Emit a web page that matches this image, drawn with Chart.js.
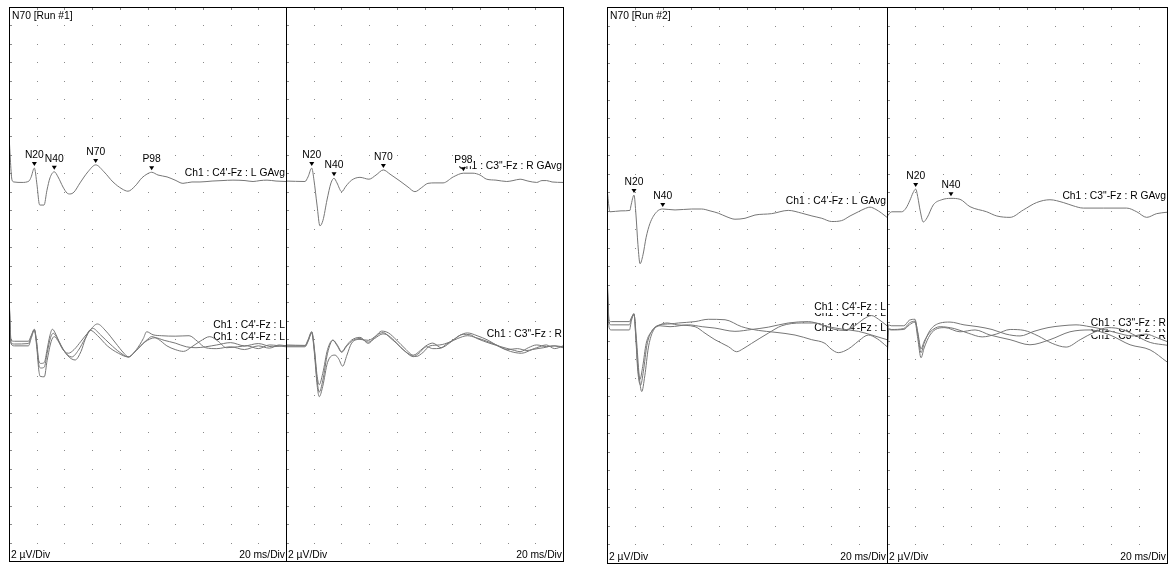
<!DOCTYPE html>
<html>
<head>
<meta charset="utf-8">
<script src="https://cdn.jsdelivr.net/npm/chart.js@4.4.1/dist/chart.umd.min.js"></script>
<style>
  body { margin: 0; background: #fff; width: 1169px; height: 569px; overflow: hidden; }
  canvas { position: absolute; }
</style>
</head>
<body>
<canvas id="run1L"></canvas>
<canvas id="run1R"></canvas>
<canvas id="run2L"></canvas>
<canvas id="run2R"></canvas>
<script>
// ---- scale: 20 ms/Div (10 div), 2 uV/Div (30 div) ----
const X_MAX = 200, X_DIV = 20;
const Y_MAX = 60, Y_DIV = 2;

// ---- traces: [ms, uV] relative to each trace's baseline ----
// Run #1, left (C4'-Fz : L)
const run1AvgL = [[0,5.0],[2.2,0.2],[3.6,0],[9.4,-0.05],[14.4,0.1],[15.9,0.5],[18.3,1.5],[20.2,-0.3],[21.7,-2.3],[22.4,-2.5],[25.3,-2.5],[27.4,-0.9],[29.6,0.45],[32.7,1.1],[35.4,0.55],[39,-0.55],[41.9,-1.2],[44,-1.3],[46.9,-1.1],[51.3,-0.1],[57,1.1],[62.6,1.85],[68.6,1.1],[75.1,0],[81.6,-0.75],[85.9,-1.0],[91,-0.45],[96,0.45],[99.6,0.85],[103,1.05],[107.6,0.75],[114.1,0.55],[119.9,0.2],[125.6,-0.15],[132.1,0],[137.9,0],[146.6,0.1],[153.8,0.15],[161.7,0.2],[170.4,0.15],[176.2,0.05],[181.2,0.15],[186.3,0.2],[192.8,0.1],[200,0.05]];
const run1SingleL1 = [[0,5.5],[1.5,0.4],[4,0.3],[14,0.3],[16,0.9],[18.3,1.6],[20,0.2],[21.5,-1.8],[23,-2.1],[25.5,-2.0],[27.5,-0.6],[29.5,0.9],[31.3,1.6],[34,1.0],[38,-0.4],[42.8,-1.0],[47,-0.6],[52,0.3],[58,1.4],[63.8,2.17],[70,1.4],[77,0.1],[83,-1.0],[86.2,-1.4],[92,-0.6],[97,0.6],[99.4,1.33],[104,1.0],[110,0.9],[120,0.85],[130,0.9],[136,0.3],[142,-0.4],[150,-0.5],[160,-0.3],[170,-0.6],[180,-0.2],[188,-0.45],[195,-0.1],[200,-0.2]];
const run1SingleL2 = [[0,5.0],[1.5,0.1],[4,0.0],[14,0.05],[16,0.8],[18.3,1.55],[20,0.0],[21.5,-2.2],[23,-2.6],[25.5,-2.5],[27.5,-1.0],[30,0.7],[32,1.16],[35,0.6],[40,-0.8],[45.3,-1.4],[50,-0.7],[55,0.6],[60.4,1.7],[66,1.0],[73,0.0],[80,-0.9],[86.2,-1.4],[89.8,-1.0],[95,-0.2],[100,0.5],[103,0.8],[108,0.5],[114,-0.2],[120,-0.6],[126,-0.8],[132,-0.3],[138,0.3],[145,0.8],[151,0.3],[157,-0.4],[165,-0.3],[172,-0.2],[180,-0.5],[188,-0.1],[200,-0.3]];
const run1SingleL3 = [[0,5.2],[1.5,0.0],[4,-0.2],[14,-0.2],[16,0.6],[18.3,1.5],[20,-0.3],[21.5,-2.8],[22.5,-3.5],[25.5,-3.55],[27.5,-1.8],[30.5,0.3],[32.7,0.8],[36,0.2],[42,-1.2],[47.7,-1.73],[52,-0.8],[55,0.5],[58.5,1.5],[64,0.9],[71,-0.2],[79,-1.0],[86.2,-1.4],[92,-0.7],[98,0.2],[105.4,0.68],[112,0.4],[120,0.1],[128,-0.3],[135,-0.4],[142,-0.3],[150,-0.1],[160,0.15],[170,-0.2],[180,0.05],[190,-0.3],[200,-0.15]];
// Run #1, right (C3"-Fz : R)
const run1AvgR = [[0,0.05],[13.7,0],[15.9,0.5],[18.6,1.45],[20.2,0.15],[22.4,-2.55],[24.5,-4.8],[26.7,-4.2],[29.6,-2.0],[32.5,-0.15],[34.7,0.35],[36.8,-0.15],[40.2,-1.1],[43.3,-0.5],[47.4,0.15],[53.4,0.45],[59.9,0.25],[65,0.7],[70.3,1.25],[75.1,0.8],[82.3,0.05],[88.1,-0.6],[93.1,-1.1],[98,-0.65],[102.5,-0.2],[107.6,-0.15],[113.4,-0.15],[120.8,0.5],[128.1,0.9],[135,0.9],[140.1,0.7],[144.9,0.25],[151.6,0.15],[159.4,0],[163.9,0.1],[169,0.25],[174.7,0.05],[181,-0.1],[184.8,0.1],[188.2,0.1],[192.1,-0.05],[200,-0.1]];
const run1SingleR1 = [[0,-0.1],[13.7,-0.15],[16,0.5],[18.6,1.34],[20.5,-0.5],[22.5,-3.5],[24,-4.4],[26.5,-3.2],[30,-0.6],[33.9,0.43],[37,-0.1],[40.2,-0.83],[43.5,-0.2],[47.4,0.43],[53.4,0.72],[59.4,0.07],[64,0.7],[67.8,1.16],[70.3,1.23],[75,0.7],[79.9,0.07],[86,-0.8],[91.9,-1.37],[96,-1.0],[101.6,-0.29],[106,-0.5],[111.2,-0.47],[116,0.0],[120.6,0.43],[128,1.05],[133,1.0],[137.7,0.61],[147.3,0.07],[153,-0.2],[159.4,-0.47],[165,-0.7],[169,-0.83],[175,-0.4],[181,-0.1],[188.2,-0.29],[194,-0.2],[200,-0.3]];
const run1SingleR2 = [[0,-0.2],[13.7,-0.2],[16,0.4],[18.6,1.3],[20.5,-0.7],[22.5,-4.0],[24,-5.2],[26.5,-4.0],[30,-1.0],[33.9,0.4],[37,-0.2],[40.2,-0.9],[43.5,-0.3],[47.4,0.3],[53.4,0.6],[59.4,0.2],[64,0.6],[70,1.1],[73,1.0],[78,0.4],[83,-0.4],[89,-1.1],[94,-1.35],[99,-0.9],[104,-0.2],[111,-0.1],[118,0.2],[124,0.6],[131,0.9],[137,0.7],[145,0.3],[152,-0.1],[160,-0.6],[167,-0.5],[174,-0.7],[181,-0.4],[188,-0.1],[194,-0.5],[200,-0.2]];
const run1SingleR3 = [[0,-0.3],[13.7,-0.3],[16,0.3],[18.6,1.2],[20.5,-1.0],[22.5,-4.5],[24,-5.7],[26.5,-4.6],[30,-2.0],[35.4,-1.2],[38,-1.6],[40.9,-2.4],[44,-1.2],[47.4,0.1],[53.4,0.5],[59.4,0.4],[65,0.9],[69,1.4],[74,1.2],[80,0.4],[86,-0.5],[92,-1.2],[97,-0.7],[101,-0.2],[106,0.1],[112,-0.4],[118,0.1],[125,0.9],[131,1.2],[138,0.9],[146,0.4],[154,-0.3],[162,-0.8],[170,-1.0],[178,-0.6],[186,-0.4],[193,-0.2],[200,-0.4]];
// Run #2, left (C4'-Fz : L)
const run2AvgL = [[0,2.5],[1.5,0.3],[2.1,-0.1],[10,0.0],[16.4,0.05],[17.1,0.55],[19.3,1.7],[20.7,-0.45],[22.1,-3.65],[23.6,-5.7],[25.7,-4.75],[27.9,-2.9],[30.7,-1.35],[35.5,-0.1],[39.8,0.2],[48.6,0.1],[60.5,0.2],[67.6,0.2],[73.6,0],[79.5,-0.25],[85.7,-0.65],[91.4,-0.9],[98.6,-0.8],[105.7,-0.45],[117.6,-0.3],[129.5,0.05],[139.1,-0.25],[146.4,-0.55],[153.4,-0.8],[160.5,-1.15],[167.6,-1.05],[173.6,-0.55],[179.5,-0.1],[183.6,0.2],[187.9,0.4],[192.1,0.15],[196.2,-0.25],[200,-0.7]];
const run2SingleL1 = [[0,5.9],[1.5,0.5],[3,0.35],[16,0.35],[17.5,0.8],[19.3,1.2],[20.5,-1.0],[22,-4.5],[23.5,-5.9],[25.5,-4.5],[28,-2.0],[31.9,-0.7],[37.9,0.0],[42.9,0.2],[50,0.0],[62.9,-0.2],[70,-0.9],[77.1,-1.6],[86.7,-2.35],[92.6,-2.9],[97,-2.6],[103.3,-2.0],[115.2,-0.9],[124.8,-0.1],[139.1,0.2],[148.6,0.2],[158.1,-0.2],[167.6,-0.45],[179.5,-0.7],[189.1,-1.1],[200,-1.6]];
const run2SingleL2 = [[0,5.4],[1.5,0.2],[3,0.0],[16,0.0],[17.5,0.7],[19.3,1.2],[20.5,-1.2],[22,-5.0],[24,-6.5],[26,-5.0],[28.5,-2.2],[31.9,-0.7],[37.9,0.0],[45,0.1],[51,0.2],[62.9,0.35],[72.4,0.6],[84.3,0.55],[96.2,-0.2],[108.1,-0.6],[120,-0.8],[134.3,-1.1],[146.2,-1.6],[155.7,-2.0],[160,-2.6],[165.2,-3.0],[170,-2.8],[174.8,-2.35],[180,-1.7],[186.7,-1.1],[193,-1.5],[200,-2.35]];
const run2SingleL3 = [[0,5.0],[1.5,-0.3],[3,-0.55],[16,-0.55],[17.5,0.5],[19.3,1.1],[21,-1.5],[23,-5.5],[24.8,-7.2],[27,-5.5],[29.5,-2.5],[32.5,-0.8],[37.9,-0.1],[45,-0.2],[58.1,0.0],[68,-0.2],[77.1,-0.35],[91.4,-0.7],[103.3,-0.5],[115.2,-0.25],[129.5,0.2],[143.8,0.35],[153.3,0.0],[162.9,-0.5],[170,-0.6],[177,-0.1],[183,0.6],[189,1.0],[194,0.6],[200,-0.1]];
// Run #2, right (C3"-Fz : R)
const run2AvgR = [[0,-0.6],[3.4,-0.1],[10.5,-0.1],[13.6,0.3],[16.4,1.15],[18.6,1.95],[20.5,2.35],[22.1,1.4],[23.6,0.1],[25.9,-1.2],[28.6,-0.75],[33.1,0.65],[39.1,1.2],[45.7,1.35],[52.1,1.25],[59.3,0.45],[71.2,-0.1],[78.4,-0.55],[87.9,-0.7],[97.4,0.1],[106.9,0.9],[116.4,1.2],[125.9,0.9],[132.9,0.55],[140.2,0.3],[154.5,0.3],[171.2,0.3],[178.4,-0.1],[185.5,-0.7],[192.6,-0.3],[200,-0.15]];
const run2SingleR1 = [[0,-5.0],[1,-0.5],[3,-0.55],[12,-0.5],[16,0.0],[20,0.3],[22,-1.5],[24.3,-3.55],[26.5,-2.5],[30.7,-1.1],[36,-0.4],[41.4,-0.3],[52.1,-0.75],[62.9,-0.55],[73.6,-1.1],[87.9,-1.6],[102.1,-2.15],[116.4,-1.6],[130.7,-0.75],[145,-0.55],[159.3,-1.1],[173.6,-2.15],[187.9,-2.7],[200,-4.0]];
const run2SingleR2 = [[0,-4.0],[1,0.0],[3,-0.1],[12,-0.1],[16,0.5],[20,0.6],[22,-1.0],[24.3,-3.0],[26.5,-2.0],[30.7,-0.6],[38,0.2],[45,0.3],[55,0.0],[65,-0.2],[75,-0.5],[85,-1.0],[95,-1.2],[105,-0.7],[115,-0.3],[125,-0.1],[135,0.0],[145,-0.2],[155,-0.5],[165,-0.9],[175,-1.2],[185,-1.0],[193,-1.4],[200,-1.8]];
const run2SingleR3 = [[0,-4.5],[1,-0.4],[3,-0.5],[12,-0.4],[16,0.2],[20,0.4],[22,-0.8],[24.3,-2.6],[26.5,-1.8],[30.7,-0.8],[38,-0.2],[48,-0.4],[58,-0.9],[68,-1.3],[78,-1.0],[88,-0.5],[98,-0.6],[108,-1.2],[118,-2.0],[128,-2.4],[138,-1.6],[148,-0.8],[158,-0.3],[168,-0.5],[178,-1.2],[188,-1.9],[200,-2.2]];

// ---- peak markers (name + latency in ms) ----
const run1MarkNames = ["N20", "N40", "N70", "P98"];
const run1MarkTimesL = [18.3, 32.7, 62.6, 103.0];
const run1MarkTimesR = [18.6, 34.7, 70.3, 128.1];
const run2MarkNames = ["N20", "N40"];
const run2MarkTimesL = [19.3, 39.8];
const run2MarkTimesR = [20.5, 45.7];

const FONT = '10.3px "Liberation Sans", Arial, sans-serif';
const TRACE_COLOR = "#767676";

function toPoints(trace, base) {
  return trace.map(([t, v]) => ({ x: t, y: v + base }));
}

function valueAt(trace, t) {
  for (let i = 1; i < trace.length; i++) {
    if (trace[i][0] >= t) {
      const [t0, v0] = trace[i - 1], [t1, v1] = trace[i];
      return v0 + (v1 - v0) * (t - t0) / (t1 - t0);
    }
  }
  return trace[trace.length - 1][1];
}

function boxedText(ctx, text, x, y, align) {
  ctx.font = FONT;
  const w = ctx.measureText(text).width;
  const left = align === "right" ? x - w : align === "center" ? x - w / 2 : x;
  ctx.fillStyle = "#fff";
  ctx.fillRect(left - 1, y - 6, w + 2, 12);
  ctx.fillStyle = "#000";
  ctx.textAlign = "left";
  ctx.textBaseline = "middle";
  ctx.fillText(text, left, y);
}

// grid dots, labels, frame, markers
const panelDecor = {
  id: "panelDecor",
  beforeDatasetsDraw(chart, args, o) {
    const { ctx, chartArea: a, scales: { x, y } } = chart;
    ctx.save();
    ctx.fillStyle = "#8a8a8a";
    for (let t = X_DIV; t < X_MAX; t += X_DIV) {
      const px = Math.round(x.getPixelForValue(t));
      ctx.fillRect(px, a.top + 1, 1, 2);
      for (let v = Y_DIV; v < Y_MAX; v += Y_DIV) {
        ctx.fillRect(px, Math.round(y.getPixelForValue(v)), 1, 1);
      }
    }
    for (let v = Y_DIV; v < Y_MAX; v += Y_DIV) {
      ctx.fillRect(a.left + 1, Math.round(y.getPixelForValue(v)), 2, 1);
    }
    // channel labels, lowest first so upper boxes overlap the lower ones
    o.labels.forEach(l => boxedText(ctx, l.text, a.right - 1, l.y, "right"));
    ctx.restore();
  },
  afterDatasetsDraw(chart, args, o) {
    const { ctx, chartArea: a, scales: { x, y } } = chart;
    ctx.save();
    // peak markers on the grand average
    o.markNames.forEach((name, i) => {
      const t = o.markTimes[i];
      const px = x.getPixelForValue(t);
      const py = y.getPixelForValue(valueAt(o.avg, t) + o.avgBase) - 2;
      ctx.fillStyle = "#000";
      ctx.beginPath();
      ctx.moveTo(px - 2.5, py - 4);
      ctx.lineTo(px + 2.5, py - 4);
      ctx.lineTo(px, py);
      ctx.closePath();
      ctx.fill();
      boxedText(ctx, name, px, py - 11, "center");
    });
    if (o.title) boxedText(ctx, o.title, a.left + 3, a.top + 9, "left");
    boxedText(ctx, "2 µV/Div", a.left + 2, a.bottom - 6, "left");
    boxedText(ctx, "20 ms/Div", a.right - 1, a.bottom - 6, "right");
    ctx.strokeStyle = "#000";
    ctx.lineWidth = 1;
    ctx.strokeRect(a.left + 0.5, a.top + 0.5, a.right - a.left, a.bottom - a.top);
    ctx.restore();
  }
};

function drawPanel(id, box, cfg) {
  const cv = document.getElementById(id);
  cv.width = box.w + 1;
  cv.height = box.h + 1;
  cv.style.left = box.x + "px";
  cv.style.top = box.y + "px";
  const line = { borderColor: TRACE_COLOR, borderWidth: 1, pointRadius: 0, cubicInterpolationMode: "monotone", fill: false };
  const datasets = cfg.singles.map(tr => ({ data: toPoints(tr, cfg.singleBase), ...line }));
  datasets.push({ data: toPoints(cfg.avg, cfg.avgBase), ...line });
  new Chart(cv, {
    type: "line",
    data: { datasets },
    options: {
      responsive: false,
      animation: false,
      events: [],
      layout: { padding: { left: 0, top: 0, right: 1, bottom: 1 } },
      scales: {
        x: { type: "linear", min: 0, max: X_MAX, display: false },
        y: { type: "linear", min: 0, max: Y_MAX, display: false }
      },
      plugins: {
        legend: { display: false },
        tooltip: { enabled: false },
        panelDecor: {
          title: cfg.title,
          avg: cfg.avg,
          avgBase: cfg.avgBase,
          markNames: cfg.markNames,
          markTimes: cfg.markTimes,
          labels: cfg.labels.map(l => ({ text: l.text, y: l.y - box.y }))
        }
      }
    },
    plugins: [panelDecor]
  });
}

const L4 = "Ch1 : C4'-Fz : L", R3 = 'Ch1 : C3"-Fz : R';

drawPanel("run1L", { x: 9, y: 7, w: 277, h: 554 }, {
  title: "N70 [Run #1]",
  avg: run1AvgL, avgBase: 41.05, singleBase: 23.5,
  singles: [run1SingleL1, run1SingleL2, run1SingleL3],
  markNames: run1MarkNames, markTimes: run1MarkTimesL,
  labels: [{ text: L4, y: 338.5 }, { text: L4, y: 337.5 }, { text: L4, y: 325 }, { text: L4 + " GAvg", y: 173 }]
});
drawPanel("run1R", { x: 286, y: 7, w: 277, h: 554 }, {
  title: null,
  avg: run1AvgR, avgBase: 41.1, singleBase: 23.5,
  singles: [run1SingleR1, run1SingleR2, run1SingleR3],
  markNames: run1MarkNames, markTimes: run1MarkTimesR,
  labels: [{ text: R3, y: 340 }, { text: R3, y: 337 }, { text: R3, y: 334 }, { text: R3 + " GAvg", y: 166 }]
});
drawPanel("run2L", { x: 607, y: 7, w: 280, h: 556 }, {
  title: "N70 [Run #2]",
  avg: run2AvgL, avgBase: 38.0, singleBase: 25.7,
  singles: [run2SingleL1, run2SingleL2, run2SingleL3],
  markNames: run2MarkNames, markTimes: run2MarkTimesL,
  labels: [{ text: L4, y: 328 }, { text: L4, y: 313 }, { text: L4, y: 307 }, { text: L4 + " GAvg", y: 201 }]
});
drawPanel("run2R", { x: 887, y: 7, w: 280, h: 556 }, {
  title: null,
  avg: run2AvgR, avgBase: 38.0, singleBase: 25.7,
  singles: [run2SingleR1, run2SingleR2, run2SingleR3],
  markNames: run2MarkNames, markTimes: run2MarkTimesR,
  labels: [{ text: R3, y: 336 }, { text: R3, y: 329 }, { text: R3, y: 323 }, { text: R3 + " GAvg", y: 196 }]
});
</script>
</body>
</html>
